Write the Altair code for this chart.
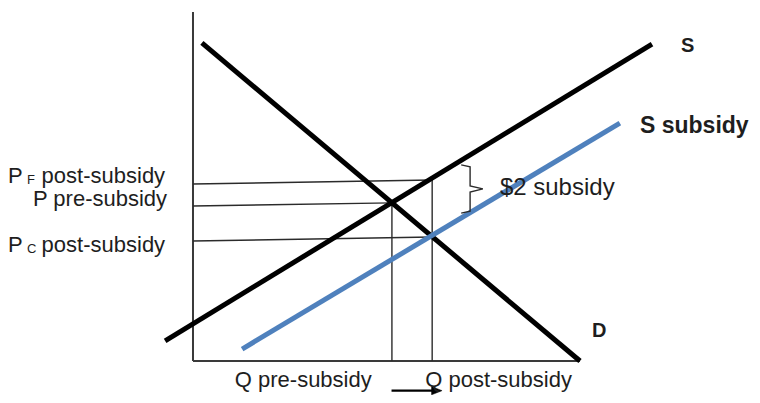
import altair as alt
import pandas as pd

# ---- economic model (quantity Q, price P) ----
demand_q = [0.23, 10.0]
demand_p = [11.16, 0.0]
supply_q = [-0.72, 11.86]
supply_p = [0.71, 11.12]
subsidy_q = [1.27, 11.03]
subsidy_p = [0.42, 8.35]

q_pre, q_post = 5.14, 6.18
p_pre_left, p_pre_right = 5.44, 5.55
p_f_left, p_f_right = 6.21, 6.35
p_c_left, p_c_right = 4.21, 4.35

axis_q_max, axis_p_max = 10.0, 12.25

# brace marking the $2 subsidy (Q, P)
brace_q = [6.93, 7.16, 7.16, 7.49, 7.16, 7.16, 6.93]
brace_p = [6.88, 6.81, 6.14, 6.04, 5.93, 5.26, 5.19]

# arrow under the quantity axis
arrow_q = [5.13, 6.22]
arrow_p = [-1.04, -1.04]
arrow_tip_q = 6.30

X_DOMAIN = [-4.78, 14.444]
Y_DOMAIN = [-1.193, 12.386]

xs = alt.Scale(domain=X_DOMAIN, nice=False, zero=False)
ys = alt.Scale(domain=Y_DOMAIN, nice=False, zero=False)


def X(f="q"):
    return alt.X(f"{f}:Q", scale=xs, axis=None)


def Y(f="p"):
    return alt.Y(f"{f}:Q", scale=ys, axis=None)


def line(qs, ps, color, width):
    df = pd.DataFrame({"q": qs, "p": ps, "i": range(len(qs))})
    return alt.Chart(df).mark_line(color=color, strokeWidth=width, strokeCap="butt",
                                   strokeJoin="miter", clip=False).encode(
        x=X(), y=Y(), order="i:Q")


# axes
axes_df = pd.DataFrame({
    "q": [0.0, 0.0], "p": [0.0, 0.0],
    "q2": [0.0, axis_q_max], "p2": [axis_p_max, 0.0],
})
axes = alt.Chart(axes_df).mark_rule(color="#3a3a3a", strokeWidth=2).encode(
    x=X(), y=Y(), x2="q2:Q", y2="p2:Q")

# guide lines
guide_df = pd.DataFrame({
    "q": [0.0, 0.0, 0.0, q_pre, q_post],
    "p": [p_f_left, p_pre_left, p_c_left, 0.0, 0.0],
    "q2": [q_post, q_pre, q_post, q_pre, q_post],
    "p2": [p_f_right, p_pre_right, p_c_right, p_pre_right, p_f_right],
})
guides = alt.Chart(guide_df).mark_rule(color="#2b2b2b", strokeWidth=1.4).encode(
    x=X(), y=Y(), x2="q2:Q", y2="p2:Q")

demand = line(demand_q, demand_p, "#000000", 5)
supply = line(supply_q, supply_p, "#000000", 5)
subsidy = line(subsidy_q, subsidy_p, "#4F81BD", 5)
brace = line(brace_q, brace_p, "#2b2b2b", 1.4)
arrow = line(arrow_q, arrow_p, "#000000", 2.2)
arrow_head = alt.Chart(pd.DataFrame({"q": [arrow_tip_q], "p": [arrow_p[1]]})).mark_point(
    shape="M-1,-0.8L1,0L-1,0.8Z", filled=True, fill="#000000", stroke="#000000",
    strokeWidth=0.5, size=110, opacity=1, clip=False
).encode(x=X(), y=Y())


def texts(labels, qs, ps, size, align="left", weight="normal", font="Liberation Sans",
          color="#1e1e1e"):
    df = pd.DataFrame({"t": labels, "q": qs, "p": ps})
    return alt.Chart(df).mark_text(
        align=align, baseline="alphabetic", fontSize=size, fontWeight=weight,
        font=font, color=color, clip=False
    ).encode(x=X(), y=Y(), text="t:N")


left_p = texts(["P", "P"], [-4.78, -4.78], [6.245, 3.825], 22)
subs = texts(["F", "C"], [-4.29, -4.29], [6.21, 3.79], 13)
right_lbl = texts(["post-subsidy", "P pre-subsidy", "post-subsidy"],
                  [-0.72, -0.67, -0.72], [6.245, 5.43, 3.825], 22, align="right")
bottom = texts(["Q  pre-subsidy", "Q post-subsidy"], [1.08, 6.0], [-0.90, -0.90], 22)
two = texts(["$2 subsidy"], [7.93], [5.82], 24)
bold = alt.layer(
    texts(["S"], [12.61], [10.84], 20, weight="bold"),
    texts(["S subsidy"], [11.55], [8.0], 23, weight="bold"),
    texts(["D"], [10.31], [0.84], 20, weight="bold"),
)

chart = alt.layer(
    axes, guides, demand, supply, subsidy, brace, arrow, arrow_head,
    left_p, subs, right_lbl, bottom, two, bold
).properties(
    width=744, height=387, padding=0,
    autosize=alt.AutoSizeParams(type="none"),
).configure_view(stroke=None)

chart.save("out.html", embed_options={"renderer": "svg", "actions": False})
